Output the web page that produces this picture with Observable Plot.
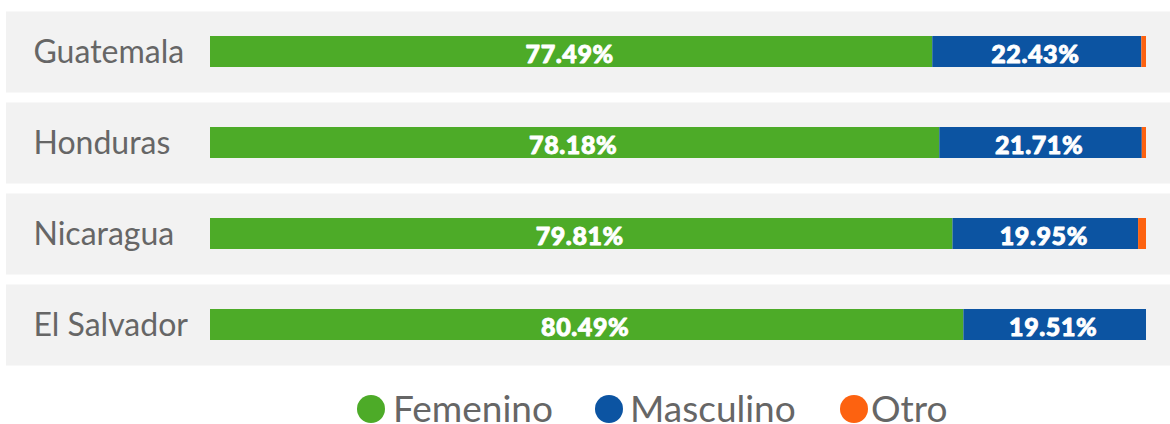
<!DOCTYPE html>
<html>
<head>
<meta charset="utf-8">
<script src="https://cdn.jsdelivr.net/npm/d3@7"></script>
<script src="https://cdn.jsdelivr.net/npm/@observablehq/plot@0.6"></script>
<style>
  html, body { margin: 0; padding: 0; background: #fff; }
  #wrap { width: 1170px; height: 424px; overflow: hidden; position: relative; }
  #legend { position: relative; height: 49px; font-family: Lato, sans-serif; color: #666; }
  .dot { position: absolute; top: 20px; width: 28px; height: 28px; border-radius: 50%; }
  .lab { position: absolute; top: 14px; font-size: 37px; line-height: 1; white-space: nowrap; }
  #chart g[fill="white"] text { letter-spacing: 0.6px; }
</style>
</head>
<body>
<div id="wrap"><div id="chart"></div><div id="legend"></div></div>
<script>
const countries = ["Guatemala", "Honduras", "Nicaragua", "El Salvador"];
const genders = ["Femenino", "Masculino", "Otro"];
const femenino = [77.49, 78.18, 79.81, 80.49];
const masculino = [22.43, 21.71, 19.95, 19.51];
const otro = [0.5, 0.45, 0.85, 0];
const colors = ["#4dab28", "#0c54a2", "#fd6210"];

const data = [];
countries.forEach((c, i) => {
  data.push({country: c, gender: "Femenino", value: femenino[i]});
  data.push({country: c, gender: "Masculino", value: masculino[i]});
  data.push({country: c, gender: "Otro", value: otro[i]});
});

const stackOpts = {x: "value", y: "country", z: "gender", offset: "normalize", order: genders};

const chart = Plot.plot({
  width: 1170,
  height: 375,
  marginTop: 6,
  marginBottom: 5,
  marginLeft: 6,
  marginRight: 0,
  x: {range: [210, 1146], axis: null},
  y: {domain: countries, paddingInner: 0.66, paddingOuter: 0.33, axis: null},
  color: {domain: genders, range: colors},
  style: {fontFamily: "Lato, sans-serif", background: "transparent"},
  marks: [
    Plot.ruleY(countries, {y: d => d, stroke: "#f2f2f2", strokeWidth: 81}),
    Plot.text(countries, {y: d => d, text: d => d, frameAnchor: "left", dx: 27, dy: 1, textAnchor: "start", fill: "#666", fontSize: 32}),
    Plot.barX(data, Plot.stackX({...stackOpts, fill: "gender"})),
    Plot.text(data, Plot.stackX({...stackOpts,
      text: d => d.gender === "Otro" ? null : d.value.toFixed(2) + "%",
      fill: "white", stroke: "white", strokeWidth: 0.9, fontSize: 25, fontWeight: 900, dy: 2.5, dx: -2}))
  ]
});
document.getElementById("chart").appendChild(chart);

const legend = document.getElementById("legend");
const dotLefts = [357, 595, 840];
const labLefts = [393, 630, 871];
genders.forEach((g, i) => {
  const dot = document.createElement("div");
  dot.className = "dot";
  dot.style.left = dotLefts[i] + "px";
  dot.style.background = colors[i];
  const label = document.createElement("div");
  label.className = "lab";
  label.style.left = labLefts[i] + "px";
  label.textContent = g;
  legend.appendChild(dot);
  legend.appendChild(label);
});
</script>
</body>
</html>
